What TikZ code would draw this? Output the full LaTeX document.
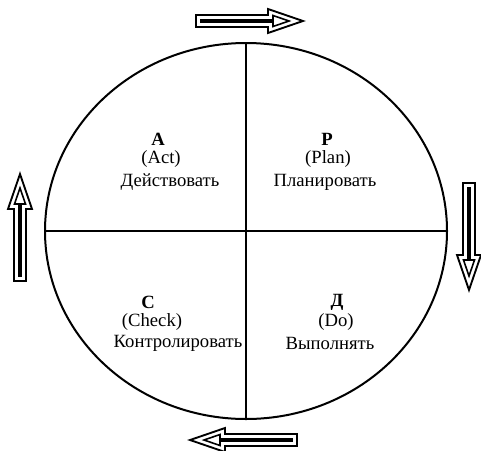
\documentclass[tikz,border=0pt]{standalone}
\usepackage{fontspec}
\setmainfont{Liberation Serif}
\usepackage{tikz}
\usetikzlibrary{positioning,calc}

\tikzset{
  quad/.style={font=\fontsize{14}{16}\selectfont, inner sep=0pt, anchor=center},
  letter/.style={quad, font=\fontsize{14}{16}\selectfont\bfseries},
  cyclearrow/.style={line width=1.4pt, line join=miter},
}

% block arrow pointing along +x, tail at #1, rotated by #2
\newcommand{\pdcaarrow}[2]{%
  \begin{scope}[shift={(#1)},rotate=#2]
    \draw[cyclearrow,fill=white] (0,-6) -- (72,-6) -- (72,-12) -- (107,0) -- (72,12) -- (72,6) -- (0,6) -- cycle;
    \fill (4,-2.2) rectangle (78,2.2);
    \draw[line width=1.2pt] (77,-5.5) -- (93,0) -- (77,5.5) -- cycle;
  \end{scope}}

\begin{document}
\begin{tikzpicture}[x=0.75pt,y=-0.75pt]
  \useasboundingbox (0,0) rectangle (481,450);
  % cycle
  \coordinate (c) at (246,231);
  \coordinate (top) at (246,42);  \coordinate (bot) at (246,418);
  \coordinate (lft) at (45,231);  \coordinate (rgt) at (447,231);
  \draw[line width=1.5pt] (c) ellipse [x radius=201, y radius=188];
  \draw[line width=1.3pt] (top) -- (bot);
  \draw[line width=1.3pt] (lft) -- (rgt);
  % quadrants
  \node[letter] (a) at (158,139) {A};
  \node[quad] (a-en) at (161,159) {(Act)};
  \node[quad] (a-ru) at (170,182) {Действовать};
  \node[letter] (p) at (327,139) {P};
  \node[quad] (p-en) at (328,159) {(Plan)};
  \node[quad] (p-ru) at (325,182) {Планировать};
  \node[letter] (ch) at (148,302) {C};
  \node[quad] (ch-en) at (152,322) {(Check)};
  \node[quad] (ch-ru) at (178,343) {Контролировать};
  \node[letter] (d) at (337,302) {Д};
  \node[quad] (d-en) at (336,322) {(Do)};
  \node[quad] (d-ru) at (330,343) {Выполнять};
  % arrows round the cycle
  \pdcaarrow{196,21}{0}
  \pdcaarrow{469,183}{-90}
  \pdcaarrow{297,440}{180}
  \pdcaarrow{20,281}{90}
\end{tikzpicture}
\end{document}
